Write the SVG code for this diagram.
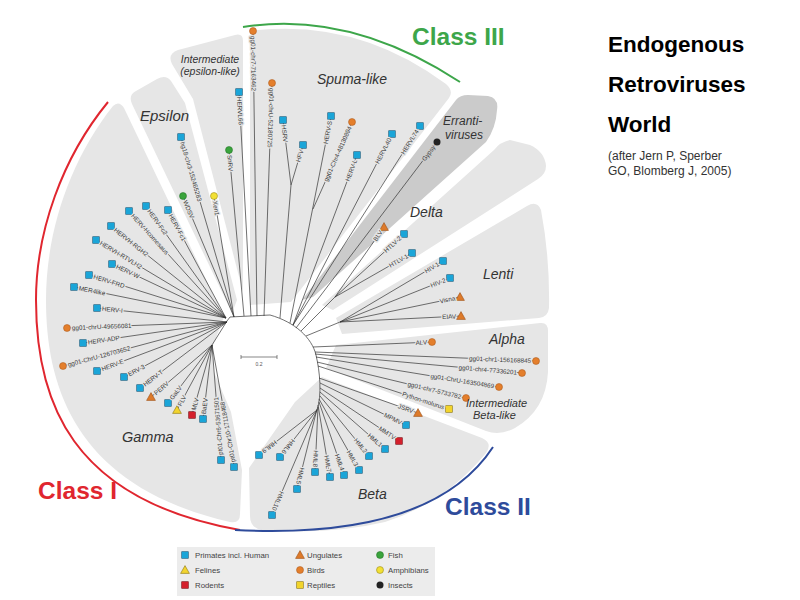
<svg xmlns="http://www.w3.org/2000/svg" width="800" height="600" viewBox="0 0 800 600">
<defs>
<style>
.reg{fill:#e6e6e6}
.err{fill:#cbcbcb}
.br{fill:none;stroke:#333;stroke-width:0.7}
.lb{font-family:"Liberation Sans",Arial,sans-serif;font-size:6.3px;fill:#3a3a3a;paint-order:stroke;stroke:#e6e6e6;stroke-width:2.6px;stroke-linejoin:round}
.dk{stroke:#cbcbcb}
.out{text-anchor:end}
.rl{font-family:"Liberation Sans",Arial,sans-serif;font-style:italic;fill:#333}
.cls{font-family:"Liberation Sans",Arial,sans-serif;font-weight:bold;font-size:24.5px}
.ttl{font-family:"Liberation Sans",Arial,sans-serif;font-weight:bold;font-size:22.5px;fill:#000}
.sub{font-family:"Liberation Sans",Arial,sans-serif;font-size:12px;fill:#333}
.lg{font-family:"Liberation Sans",Arial,sans-serif;font-size:7.8px;fill:#444}
</style>
<rect id="sP" x="-3.3" y="-3.3" width="6.6" height="6.6" fill="#1aa5d8" stroke="#1f5d7c" stroke-width="0.6"/>
<rect id="sR" x="-3.3" y="-3.3" width="6.6" height="6.6" fill="#d4202c" stroke="#7a1016" stroke-width="0.6"/>
<rect id="sY" x="-3.3" y="-3.3" width="6.6" height="6.6" fill="#f2d42c" stroke="#8a7410" stroke-width="0.6"/>
<polygon id="tU" points="0,-4.4 4.4,3.4 -4.4,3.4" fill="#dd7a2a" stroke="#9a4f18" stroke-width="0.6"/>
<polygon id="tF" points="0,-4.4 4.4,3.4 -4.4,3.4" fill="#f2d42e" stroke="#8a7410" stroke-width="0.6"/>
<circle id="cB" r="3.5" fill="#e47f2c" stroke="#a5541a" stroke-width="0.5"/>
<circle id="cF" r="3.5" fill="#3aa43c" stroke="#1f6a22" stroke-width="0.5"/>
<circle id="cA" r="3.5" fill="#f2e034" stroke="#8a7a10" stroke-width="0.5"/>
<circle id="cI" r="3.5" fill="#222"/>
</defs>

<rect width="800" height="600" fill="#fff"/>

<g id="regions">
<path id="reg-gamma" class="reg" d="M224,317 L124,108 Q119,100 113,106 C70,160 46,232 46,300 C46,395 82,488 230,522 Q240,524 240,514 L242,470 L231,412 L214,372 L212,348 Z"/>
<path id="reg-epsilon" class="reg" d="M232,313 L132,104 Q128,95 136,91 L157,79 Q166,74 171,81 L185,103 L237,300 Z"/>
<path id="reg-intermediate" class="reg" d="M243,292 L243,41 Q243,33 235,35 L178,50 Q167,54 172,64 L193,99 Z"/>
<path id="reg-spuma" class="reg" d="M250,305 L250,38 Q250,30 258,30 Q360,20 446,84 Q454,91 449,98 L291,302 Z"/>
<path id="reg-errant" class="err" d="M302,300 L456,100 Q460,95 468,95 L488,96 Q499,98 497,110 Q496,128 486,142 L313,297 Z"/>
<path id="reg-delta" class="reg" d="M322,305 L494,150 Q500,142 510,140 L530,145 Q545,152 546,166 Q546,174 538,179 L333,310 Z"/>
<path id="reg-lenti" class="reg" d="M336,318 L527,206 Q537,200 541,210 Q550,258 549,308 Q548,317 539,318 L342,334 Z"/>
<path id="reg-alpha" class="reg" d="M336,345 L540,323 Q548,322 548,331 L548,372 Q546,410 515,428 Q500,436 486,431 L326,368 Z"/>
<path id="reg-beta" class="reg" d="M322,377 L482,438 Q493,443 486,453 Q445,503 385,522 Q330,535 262,530 Q250,528 250,516 L249,468 L295,402 Z"/>
</g>

<g id="class-arcs" fill="none" stroke-width="2">
<path d="M108,102 C62,158 36,232 36,300 C36,400 70,500 240,530" stroke="#e0262f"/>
<path d="M243,27 Q350,10 460,82" stroke="#3da64a"/>
<path d="M493,447 Q432,540 235,530" stroke="#2e4b9b"/>
</g>

<g id="connectors" class="br">
<path d="M212,345 L227,321 L230,317 L270,315 C295,322 312,338 316,355 C320,372 322,395 317,410"/>
<path d="M280,318 L291,185"/>
<path d="M301,331 L335,297"/>
<path d="M306,336 L340,322"/>
<path d="M234,317 L181,137 M234,317 L183,196 M234,317 L214,196 M244,316 L229,150 M251,316 L239,92 M257,316 L253,31 M264,316 L272,83"/>
<path d="M291,185 L283,120 M291,185 L303,145 M290,323 L331,116 M313,209 L352,122 M293,325 L357,155 M293,325 L392,134 M293,325 L420,126 M296,328 L437,142"/>
<path d="M335,297 L384,227 M335,297 L404,234 M335,297 L412,253"/>
<path d="M340,322 L443,261 M340,322 L450,278 M340,322 L460,297 M340,322 L461,316"/>
<path d="M313,347 L432,342 M315,352 L536,361 M315,354 L522,373 M316,357 L499,387 M317,362 L466,398 M318,366 L449,409"/>
<path d="M319,378 L418,413 M320,383 L406,425 M320,388 L399,441 M320,392 L385,449 M320,396 L369,456 M319,399 L359,470 M319,402 L344,475 M318,405 L330,477 M318,407 L315,472 M317,409 L297,489 M317,410 L272,515 M317,410 L280,457 M317,410 L259,455"/>
<path d="M226,318 L168,210 M226,318 L146,206 M226,318 L129,211 M226,318 L111,226 M226,318 L96,240 M226,318 L112,264 M226,318 L89,275 M226,318 L74,287"/>
<path d="M227,322 L97,308 M227,322 L67,328 M227,322 L83,343 M227,322 L63,366 M227,322 L97,371 M227,322 L124,377 M227,322 L140,388"/>
<path d="M212,345 L151,397 M212,345 L168,403 M212,345 L177,410 M212,345 L192,415 M212,345 L203,419 M212,345 L221,460 M212,345 L234,467"/>
</g>

<g id="leaves">
<g id="leaf-hg18" transform="translate(181,137)"><use href="#sP"/><text class="lb" transform="rotate(73.6)" x="5" dy="2.2">hg18-chr3-152465283</text></g>
<g id="leaf-WDSV" transform="translate(183,196)"><use href="#cF"/><text class="lb" transform="rotate(67.1)" x="5" dy="2.2">WDSV</text></g>
<g id="leaf-Xen1" transform="translate(214,196)"><use href="#cA"/><text class="lb" transform="rotate(80.6)" x="5" dy="2.2">Xen1</text></g>
<g id="leaf-SnRV" transform="translate(229,150)"><use href="#cF"/><text class="lb" transform="rotate(84.8)" x="5" dy="2.2">SnRV</text></g>
<g id="leaf-HERVL66" transform="translate(239,92)"><use href="#sP"/><text class="lb" transform="rotate(86.9)" x="5" dy="2.2">HERVL66</text></g>
<g id="leaf-gg01-chr7-7163462" transform="translate(253,31)"><use href="#cB"/><text class="lb" transform="rotate(89.2)" x="5" dy="2.2">gg01-chr7-7163462</text></g>
<g id="leaf-gg01-chrU-52180725" transform="translate(272,83)"><use href="#cB"/><text class="lb" transform="rotate(92)" x="5" dy="2.2">gg01-chrU-52180725</text></g>
<g id="leaf-HSRV" transform="translate(283,120)"><use href="#sP"/><text class="lb" transform="rotate(83)" x="5" dy="2.2">HSRV</text></g>
<g id="leaf-HFV" transform="translate(303,145)"><use href="#sP"/><text class="lb out" transform="rotate(-73.3)" x="-5" dy="2.2">HFV</text></g>
<g id="leaf-HERV-S" transform="translate(331,116)"><use href="#sP"/><text class="lb out" transform="rotate(-78.8)" x="-5" dy="2.2">HERV-S</text></g>
<g id="leaf-gg01-Chr4-48130894" transform="translate(352,122)"><use href="#cB"/><text class="lb out" transform="rotate(-65.9)" x="-5" dy="2.2">gg01-Chr4-48130894</text></g>
<g id="leaf-HERV-L" transform="translate(357,155)"><use href="#sP"/><text class="lb out" transform="rotate(-69.4)" x="-5" dy="2.2">HERV-L</text></g>
<g id="leaf-HERVL40" transform="translate(392,134)"><use href="#sP"/><text class="lb out" transform="rotate(-62.6)" x="-5" dy="2.2">HERVL40</text></g>
<g id="leaf-HERVL74" transform="translate(420,126)"><use href="#sP"/><text class="lb out" transform="rotate(-57.5)" x="-5" dy="2.2">HERVL74</text></g>
<g id="leaf-Gypsy" transform="translate(437,142)"><use href="#cI"/><text class="lb out dk" transform="rotate(-52.8)" x="-5" dy="2.2">Gypsy</text></g>
<g id="leaf-BLV" transform="translate(384,227)"><use href="#tU"/><text class="lb out" transform="rotate(-55)" x="-5" dy="2.2">BLV</text></g>
<g id="leaf-HTLV-2" transform="translate(404,234)"><use href="#sP"/><text class="lb out" transform="rotate(-42.4)" x="-5" dy="2.2">HTLV-2</text></g>
<g id="leaf-HTLV-1" transform="translate(412,253)"><use href="#sP"/><text class="lb out" transform="rotate(-29.7)" x="-5" dy="2.2">HTLV-1</text></g>
<g id="leaf-HIV-1" transform="translate(443,261)"><use href="#sP"/><text class="lb out" transform="rotate(-30.6)" x="-5" dy="2.2">HIV-1</text></g>
<g id="leaf-HIV-2" transform="translate(450,278)"><use href="#sP"/><text class="lb out" transform="rotate(-21.8)" x="-5" dy="2.2">HIV-2</text></g>
<g id="leaf-Visna" transform="translate(460,297)"><use href="#tU"/><text class="lb out" transform="rotate(-11.8)" x="-5" dy="2.2">Visna</text></g>
<g id="leaf-EIAV" transform="translate(461,316)"><use href="#tU"/><text class="lb out" transform="rotate(-2.8)" x="-5" dy="2.2">EIAV</text></g>
<g id="leaf-ALV" transform="translate(432,342)"><use href="#cB"/><text class="lb out" transform="rotate(-2.4)" x="-5" dy="2.2">ALV</text></g>
<g id="leaf-gg01-chr1-156168845" transform="translate(536,361)"><use href="#cB"/><text class="lb out" transform="rotate(2.3)" x="-5" dy="2.2">gg01-chr1-156168845</text></g>
<g id="leaf-gg01-chr4-77336201" transform="translate(522,373)"><use href="#cB"/><text class="lb out" transform="rotate(5.2)" x="-5" dy="2.2">gg01-chr4-77336201</text></g>
<g id="leaf-gg01-ChrU-163504869" transform="translate(499,387)"><use href="#cB"/><text class="lb out" transform="rotate(9.3)" x="-5" dy="2.2">gg01-ChrU-163504869</text></g>
<g id="leaf-gg01-chr7-5733782" transform="translate(466,398)"><use href="#cB"/><text class="lb out" transform="rotate(13.6)" x="-5" dy="2.2">gg01-chr7-5733782</text></g>
<g id="leaf-Python-molurus" transform="translate(449,409)"><use href="#sY"/><text class="lb out" transform="rotate(18.2)" x="-5" dy="2.2">Python-molurus</text></g>
<g id="leaf-JSRV" transform="translate(418,413)"><use href="#tU"/><text class="lb out" transform="rotate(19.5)" x="-5" dy="2.2">JSRV</text></g>
<g id="leaf-MPMV" transform="translate(406,425)"><use href="#sP"/><text class="lb out" transform="rotate(26)" x="-5" dy="2.2">MPMV</text></g>
<g id="leaf-MMTV" transform="translate(399,441)"><use href="#sR"/><text class="lb out" transform="rotate(33.9)" x="-5" dy="2.2">MMTV</text></g>
<g id="leaf-HML1" transform="translate(385,449)"><use href="#sP"/><text class="lb out" transform="rotate(41.2)" x="-5" dy="2.2">HML1</text></g>
<g id="leaf-HML2" transform="translate(369,456)"><use href="#sP"/><text class="lb out" transform="rotate(50.8)" x="-5" dy="2.2">HML2</text></g>
<g id="leaf-HML3" transform="translate(359,470)"><use href="#sP"/><text class="lb out" transform="rotate(60.6)" x="-5" dy="2.2">HML3</text></g>
<g id="leaf-HML4" transform="translate(344,475)"><use href="#sP"/><text class="lb out" transform="rotate(71.1)" x="-5" dy="2.2">HML4</text></g>
<g id="leaf-HML7" transform="translate(330,477)"><use href="#sP"/><text class="lb out" transform="rotate(80.5)" x="-5" dy="2.2">HML7</text></g>
<g id="leaf-HML8" transform="translate(315,472)"><use href="#sP"/><text class="lb out" transform="rotate(92.6)" x="-5" dy="2.2">HML8</text></g>
<g id="leaf-HML5" transform="translate(297,489)"><use href="#sP"/><text class="lb out" transform="rotate(104)" x="-5" dy="2.2">HML5</text></g>
<g id="leaf-HML10" transform="translate(272,515)"><use href="#sP"/><text class="lb out" transform="rotate(113.2)" x="-5" dy="2.2">HML10</text></g>
<g id="leaf-HML6" transform="translate(280,457)"><use href="#sP"/><text class="lb out" transform="rotate(128.2)" x="-5" dy="2.2">HML6</text></g>
<g id="leaf-HML9" transform="translate(259,455)"><use href="#sP"/><text class="lb out" transform="rotate(142.2)" x="-5" dy="2.2">HML9</text></g>
<g id="leaf-HERV-Fc1" transform="translate(168,210)"><use href="#sP"/><text class="lb" transform="rotate(61.8)" x="5" dy="2.2">HERV-Fc1</text></g>
<g id="leaf-HERV-Fc2" transform="translate(146,206)"><use href="#sP"/><text class="lb" transform="rotate(54.5)" x="5" dy="2.2">HERV-Fc2</text></g>
<g id="leaf-HERV-H" transform="translate(129,211)"><use href="#sP"/><text class="lb" transform="rotate(47.8)" x="5" dy="2.2">HERV-Hcomesaus</text></g>
<g id="leaf-HERVH-RGH2" transform="translate(111,226)"><use href="#sP"/><text class="lb" transform="rotate(38.7)" x="5" dy="2.2">HERVH-RGH2</text></g>
<g id="leaf-HERVH-RTVLH2" transform="translate(96,240)"><use href="#sP"/><text class="lb" transform="rotate(31)" x="5" dy="2.2">HERVH-RTVLH2</text></g>
<g id="leaf-HERV-W" transform="translate(112,264)"><use href="#sP"/><text class="lb" transform="rotate(25.3)" x="5" dy="2.2">HERV-W</text></g>
<g id="leaf-HERV-FRD" transform="translate(89,275)"><use href="#sP"/><text class="lb" transform="rotate(17.4)" x="5" dy="2.2">HERV-FRD</text></g>
<g id="leaf-MER4like" transform="translate(74,287)"><use href="#sP"/><text class="lb" transform="rotate(11.5)" x="5" dy="2.2">MER4like</text></g>
<g id="leaf-HERV-I" transform="translate(97,308)"><use href="#sP"/><text class="lb" transform="rotate(6.1)" x="5" dy="2.2">HERV-I</text></g>
<g id="leaf-gg01-chrU-49656081" transform="translate(67,328)"><use href="#cB"/><text class="lb" transform="rotate(-2.1)" x="5" dy="2.2">gg01-chrU-49656081</text></g>
<g id="leaf-HERV-ADP" transform="translate(83,343)"><use href="#sP"/><text class="lb" transform="rotate(-8.3)" x="5" dy="2.2">HERV-ADP</text></g>
<g id="leaf-gg01-ChrU-126703652" transform="translate(63,366)"><use href="#cB"/><text class="lb" transform="rotate(-15)" x="5" dy="2.2">gg01-ChrU-126703652</text></g>
<g id="leaf-HERV-E" transform="translate(97,371)"><use href="#sP"/><text class="lb" transform="rotate(-20.7)" x="5" dy="2.2">HERV-E</text></g>
<g id="leaf-ERV-3" transform="translate(124,377)"><use href="#sP"/><text class="lb" transform="rotate(-28.1)" x="5" dy="2.2">ERV-3</text></g>
<g id="leaf-HERV-T" transform="translate(140,388)"><use href="#sP"/><text class="lb" transform="rotate(-37.2)" x="5" dy="2.2">HERV-T</text></g>
<g id="leaf-PERV" transform="translate(151,397)"><use href="#tU"/><text class="lb" transform="rotate(-40.4)" x="5" dy="2.2">PERV</text></g>
<g id="leaf-GaLV" transform="translate(168,403)"><use href="#sP"/><text class="lb" transform="rotate(-52.8)" x="5" dy="2.2">GaLV</text></g>
<g id="leaf-FLV" transform="translate(177,410)"><use href="#tF"/><text class="lb" transform="rotate(-61.7)" x="5" dy="2.2">FLV</text></g>
<g id="leaf-MLV" transform="translate(192,415)"><use href="#sR"/><text class="lb" transform="rotate(-74)" x="5" dy="2.2">MLV</text></g>
<g id="leaf-BaEV" transform="translate(203,419)"><use href="#sP"/><text class="lb" transform="rotate(-83)" x="5" dy="2.2">BaEV</text></g>
<g id="leaf-pt01-Chr6" transform="translate(221,460)"><use href="#sP"/><text class="lb" transform="rotate(-94.5)" x="5" dy="2.2">pt01-Chr6-53671501</text></g>
<g id="leaf-pt01-Chr10" transform="translate(234,467)"><use href="#sP"/><text class="lb" transform="rotate(-100.2)" x="5" dy="2.2">pt01-Chr10-17118468</text></g>
</g>

<g id="region-labels" class="rl">
<text x="140" y="121" font-size="15">Epsilon</text>
<text x="210" y="63" font-size="10.5" text-anchor="middle">Intermediate</text>
<text x="210" y="75" font-size="10.5" text-anchor="middle">(epsilon-like)</text>
<text x="317" y="84" font-size="14">Spuma-like</text>
<text x="443" y="125" font-size="12">Erranti-</text>
<text x="445" y="139" font-size="12">viruses</text>
<text x="410" y="217" font-size="14">Delta</text>
<text x="483" y="279" font-size="14">Lenti</text>
<text x="489" y="344" font-size="14">Alpha</text>
<text x="466" y="407" font-size="11">Intermediate</text>
<text x="473" y="419" font-size="11">Beta-like</text>
<text x="358" y="499" font-size="14">Beta</text>
<text x="122" y="442" font-size="14.5">Gamma</text>
</g>

<g id="class-labels" class="cls">
<text x="412" y="45" fill="#3da64a">Class III</text>
<text x="38" y="499" fill="#e0262f">Class I</text>
<text x="445" y="515" fill="#2e4b9b">Class II</text>
</g>

<g id="scale-bar">
<path d="M241,357 L277,357 M241,355 L241,359 M277,355 L277,359" stroke="#555" stroke-width="0.7" fill="none"/>
<text x="259" y="366" font-family="Liberation Sans, Arial, sans-serif" font-size="5" fill="#555" text-anchor="middle">0.2</text>
</g>

<g id="legend">
<rect x="177" y="547" width="258" height="49" fill="#ececec"/>
<use href="#sP" x="185" y="555"/><text class="lg" x="195" y="558">Primates incl. Human</text>
<use href="#tF" x="185" y="570"/><text class="lg" x="195" y="573">Felines</text>
<use href="#sR" x="185" y="585"/><text class="lg" x="195" y="588">Rodents</text>
<use href="#tU" x="300" y="555"/><text class="lg" x="307" y="558">Ungulates</text>
<use href="#cB" x="300" y="570"/><text class="lg" x="307" y="573">Birds</text>
<use href="#sY" x="300" y="585"/><text class="lg" x="307" y="588">Reptiles</text>
<use href="#cF" x="380" y="555"/><text class="lg" x="388" y="558">Fish</text>
<use href="#cA" x="380" y="570"/><text class="lg" x="388" y="573">Amphibians</text>
<use href="#cI" x="380" y="585"/><text class="lg" x="388" y="588">Insects</text>
</g>

<g id="title">
<text class="ttl" x="608" y="52">Endogenous</text>
<text class="ttl" x="608" y="92">Retroviruses</text>
<text class="ttl" x="608" y="132">World</text>
<text class="sub" x="608" y="160">(after Jern P, Sperber</text>
<text class="sub" x="608" y="175">GO, Blomberg J, 2005)</text>
</g>
</svg>
